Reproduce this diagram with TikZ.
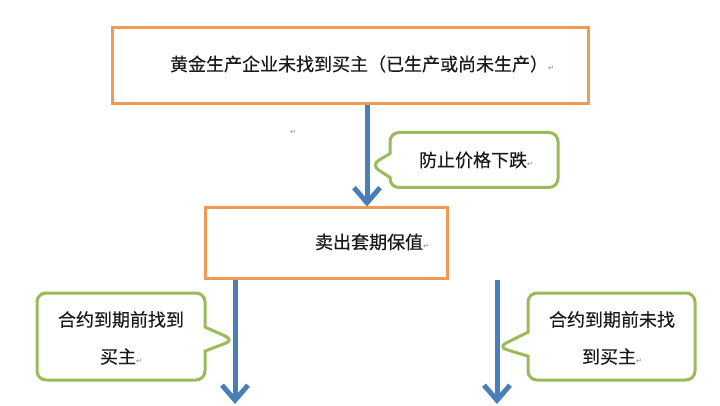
\documentclass[tikz,border=0pt]{standalone}
\usepackage{fontspec}
\newfontfamily\cjk[FakeBold=0.4]{Noto Sans CJK SC}
\newfontfamily\symfont{DejaVu Sans}
\usetikzlibrary{arrows.meta,shapes.callouts}
\definecolor{boxorange}{HTML}{F09A55}
\definecolor{callgreen}{HTML}{9BBB59}
\definecolor{arrblue}{HTML}{4A7EBB}
\definecolor{txt}{HTML}{1A1A1A}
\newcommand\parmark{{\symfont\fontsize{7}{7}\selectfont\color{gray}↵}}
\tikzset{
  flowbox/.style={draw=boxorange, line width=3pt, fill=white, rectangle},
  callbox/.style={shape=rectangle callout, draw=callgreen, line width=3pt, fill=white,
    rounded corners=9pt, callout pointer width=24pt, inner sep=0pt},
  txtnode/.style={font=\cjk\fontsize{18}{37}\selectfont, text=txt, inner sep=0pt, align=center},
  flowarrow/.style={draw=arrblue, line width=5pt,
    -{Straight Barb[length=15pt, width=26pt, line width=5pt]}}
}
\begin{document}
\begin{tikzpicture}[x=1pt,y=-1pt]
\useasboundingbox (0,0) rectangle (720,406);
\clip (0,0) rectangle (720,406);
\fill[white] (0,0) rectangle (720,406);
% boxes
\node[flowbox, minimum width=476pt, minimum height=76pt] (top) at (350,66) {};
\node[txtnode] (toptext) at (362,64) {黄金生产企业未找到买主（已生产或尚未生产）\parmark};
\node[flowbox, minimum width=242pt, minimum height=70pt] (mid) at (326,243) {};
\node[txtnode] (midtext) at (372,242) {卖出套期保值\parmark};
\node[inner sep=0pt] (stray) at (293,132) {\parmark};
% arrows
\coordinate (a1) at (367,0);
\coordinate (lend) at (235,404);
\coordinate (rend) at (497,404);
\draw[flowarrow] (top.south -| a1) -- (mid.north -| a1);
\draw[flowarrow] (mid.south -| lend) -- (lend);
\draw[flowarrow] (mid.south -| rend) -- (rend);
% callouts
\coordinate (p1) at (371,165);
\coordinate (p2) at (234,340);
\coordinate (p3) at (498,347);
\node[callbox, minimum width=168pt, minimum height=55pt, callout absolute pointer={(p1)}] (c1) at (474,160) {};
\node[txtnode] (c1text) at (476,160) {防止价格下跌\parmark};
\node[callbox, minimum width=168pt, minimum height=87pt, callout absolute pointer={(p2)}] (c2) at (121,336.5) {};
\node[txtnode] (c2text) at (121,338) {合约到期前找到\\买主\parmark};
\node[callbox, minimum width=167pt, minimum height=87pt, callout absolute pointer={(p3)}] (c3) at (611.5,336.5) {};
\node[txtnode] (c3text) at (612,338) {合约到期前未找\\到买主\parmark};
\end{tikzpicture}
\end{document}
